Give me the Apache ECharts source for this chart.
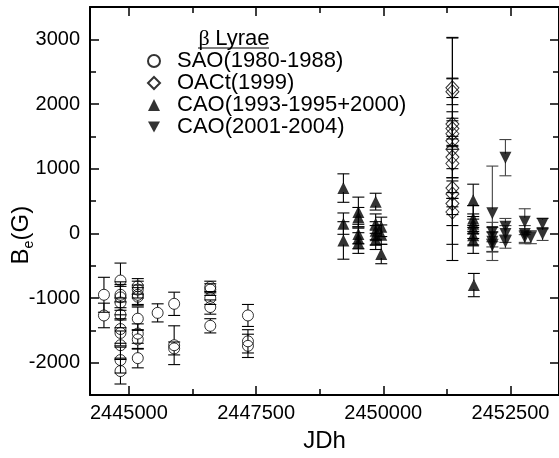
<!DOCTYPE html>
<html>
<head>
<meta charset="utf-8">
<script src="https://cdn.jsdelivr.net/npm/echarts@6/dist/echarts.min.js"></script>
<style>html,body{margin:0;padding:0;background:#fff;}#c{width:559px;height:458px;}</style>
</head>
<body>
<div id="c"></div>
<script>
// ---- data (JD, Be value, error) ----
const saoX = [2444510,2444510,
  2444835,2444835,2444835,2444835,2444835,2444835,2444835,2444835,2444835,2444835,
  2445175,2445175,2445175,2445175,2445175,2445175,2445175,2445175,
  2445565,
  2445890,2445890,2445890,
  2446600,2446600,2446600,2446600,2446600,
  2447340,2447340,2447340];
const saoY = [-950,-1270,
  -730,-950,-990,-1070,-1260,-1480,-1540,-1730,-1960,-2130,
  -820,-870,-950,-980,-1320,-1550,-1640,-1930,
  -1230,
  -1090,-1730,-1780,
  -830,-870,-1000,-1140,-1430,
  -1270,-1670,-1740];
const saoErr = [270,190,
  270,200,200,250,200,220,200,220,200,200,
  120,130,150,140,180,150,150,150,
  140,
  180,300,100,
  90,90,100,110,110,
  170,180,180];

const oacX = [2451358,2451358,2451358,2451358,2451358,2451358,2451358,2451358,2451358,2451358,2451358,2451358,2451358];
const oacY = [2250,2190,1690,1620,1540,1430,1300,1180,1080,700,610,460,330];
const oacErr = [150,200,190,160,200,1600,1720,180,220,160,200,170,210];

const cao1X = [2449216,2449216,2449216,
  2449510,2449510,2449510,2449510,2449510,
  2449850,2449850,2449850,2449850,2449850,
  2449960,2449960,2449960,
  2451767,2451767,2451767,2451767,2451767,2451767,2451780];
const cao1Y = [700,150,-110,
  330,250,-10,-80,-150,
  490,150,40,-30,-100,
  100,-20,-320,
  510,230,150,70,-30,-110,-800];
const cao1Err = [220,165,290,
  230,150,150,160,160,
  130,150,140,150,150,
  150,150,150,
  250,200,150,150,150,200,180];

const cao2X = [2452143,2452143,2452143,2452143,2452143,
  2452400,2452400,2452400,2452400,
  2452780,2452780,2452780,2452900,
  2453130,2453130];
const cao2Y = [310,20,-60,-130,-190,
  1170,100,-10,-130,
  180,-10,-60,-60,
  150,-10];
const cao2Err = [730,150,150,150,100,
  280,130,130,100,
  200,130,100,100,
  80,100];

const xMajor = [2445000,2447500,2450000,2452500];
const xMinor = [2446250,2448750,2451250];
const yMajor = [-2000,-1000,0,1000,2000,3000];
const yMinor = [-1500,-500,500,1500,2500];

const seriesNames = ['SAO(1980-1988)','OACt(1999)','CAO(1993-1995+2000)','CAO(2001-2004)'];

// ---- helpers ----
function zip(xs, ys, es){ return xs.map((x,i)=>[x, ys[i], es[i]]); }
function errRender(gap, color){
  return function(params, api){
    const x = api.value(0), y = api.value(1), e = api.value(2);
    const c = api.coord([x, y]);
    const hi = api.coord([x, y + e]);
    const lo = api.coord([x, y - e]);
    const cap = 6;
    const st = {stroke: color, lineWidth: 1.1};
    const ch = [];
    if (hi[1] < c[1] - gap) ch.push({type:'line', shape:{x1:c[0], y1:hi[1], x2:c[0], y2:c[1]-gap}, style:st});
    if (lo[1] > c[1] + gap) ch.push({type:'line', shape:{x1:c[0], y1:c[1]+gap, x2:c[0], y2:lo[1]}, style:st});
    ch.push({type:'line', shape:{x1:c[0]-cap, y1:hi[1], x2:c[0]+cap, y2:hi[1]}, style:st});
    ch.push({type:'line', shape:{x1:c[0]-cap, y1:lo[1], x2:c[0]+cap, y2:lo[1]}, style:st});
    return {type:'group', children: ch};
  };
}
function errSeries(data, gap, color){
  return {type:'custom', renderItem: errRender(gap, color), data: data,
    encode:{x:0, y:1}, xAxisIndex:0, yAxisIndex:0, silent:true, z:2};
}

const FONT = 'Liberation Sans';
const xMin = 2444236, xMax = 2453453, yMin = -2500, yMax = 3500;
const lineStyle = {color:'#000', width:2};

function xAx(pos, ticks, len, showLine, labels){
  return {type:'value', position:pos, min:xMin, max:xMax,
    axisLine:{show:showLine, onZero:false, lineStyle:lineStyle},
    axisTick:{show:true, inside:true, length:len, customValues:ticks, lineStyle:{color:'#000', width:1.5}},
    axisLabel: labels ? {show:true, customValues:ticks, color:'#000', fontSize:20, fontFamily:FONT, margin:8,
      formatter: v => String(Math.round(v))} : {show:false},
    splitLine:{show:false}};
}
function yAx(pos, ticks, len, showLine, labels){
  return {type:'value', position:pos, min:yMin, max:yMax,
    axisLine:{show:showLine, onZero:false, lineStyle:lineStyle},
    axisTick:{show:true, inside:true, length:len, customValues:ticks, lineStyle:{color:'#000', width:1.5}},
    axisLabel: labels ? {show:true, customValues:ticks, color:'#000', fontSize:20, fontFamily:FONT, margin:10,
      formatter: v => String(Math.round(v))} : {show:false},
    splitLine:{show:false}};
}

const xAxes = [xAx('bottom', xMajor, 9, true, true), xAx('bottom', xMinor, 6, false, false),
               xAx('top', xMajor, 9, true, false), xAx('top', xMinor, 6, false, false)];
xAxes[0].name = 'JDh';
xAxes[0].nameLocation = 'middle';
xAxes[0].nameGap = 34;
xAxes[0].nameTextStyle = {fontSize:24, fontFamily:FONT, color:'#000'};

const yAxes = [yAx('left', yMajor, 9, true, true), yAx('left', yMinor, 6, false, false),
               yAx('right', yMajor, 9, true, false), yAx('right', yMinor, 6, false, false)];

const downTri = 'path://M0,0L10,0L5,9Z';
const tStyle = (txt, size, align) => ({text:txt, fontSize:size, fontFamily:FONT, fill:'#000', align:align, verticalAlign:'middle'});

const option = {
  animation:false,
  backgroundColor:'#fff',
  grid:{left:90, top:7, width:474, height:391, containLabel:false},
  xAxis: xAxes,
  yAxis: yAxes,
  legend:{orient:'vertical', left:147, top:50, itemWidth:12, itemHeight:12, itemGap:0, padding:0,
    selectedMode:false,
    textStyle:{fontSize:22, fontFamily:FONT, color:'#000', lineHeight:22, padding:[0,0,0,12]},
    data: seriesNames},
  graphic:[
    {type:'text', x:234, y:39, style:{
      text:'{g|β }{t|Lyrae}', align:'center', verticalAlign:'middle',
      rich:{g:{fontSize:22, fontFamily:'Liberation Serif', fill:'#000'}, t:{fontSize:22, fontFamily:FONT, fill:'#000'}}}},
    {type:'line', shape:{x1:198, y1:48, x2:269, y2:48}, style:{stroke:'#000', lineWidth:1.2}},
    {type:'group', x:21, y:235, rotation:Math.PI/2, children:[
      {type:'text', x:-29.5, y:0, style:tStyle('B', 24, 'left')},
      {type:'text', x:-13.5, y:8, style:tStyle('e', 14, 'left')},
      {type:'text', x:-5.5, y:0, style:tStyle('(G)', 24, 'left')}
    ]}
  ],
  series:[
    errSeries(zip(saoX, saoY, saoErr), 5.5, '#000'),
    errSeries(zip(oacX, oacY, oacErr), 0, '#000'),
    errSeries(zip(cao1X, cao1Y, cao1Err), 4, '#000'),
    errSeries(zip(cao2X, cao2Y, cao2Err), 4, '#444'),
    {name:seriesNames[0], type:'scatter', symbol:'circle', symbolSize:11, z:3, silent:true,
      itemStyle:{color:'rgba(255,255,255,0)', borderColor:'#000', borderWidth:1},
      data: zip(saoX, saoY, saoErr).map(d=>[d[0], d[1]])},
    {name:seriesNames[1], type:'scatter', symbol:'diamond', symbolSize:[13,14], z:3, silent:true,
      itemStyle:{color:'rgba(255,255,255,0)', borderColor:'#000', borderWidth:1},
      data: zip(oacX, oacY, oacErr).map(d=>[d[0], d[1]])},
    {name:seriesNames[2], type:'scatter', symbol:'triangle', symbolSize:[12,12], z:3, silent:true,
      itemStyle:{color:'#000'},
      data: zip(cao1X, cao1Y, cao1Err).map(d=>[d[0], d[1]])},
    {name:seriesNames[3], type:'scatter', symbol:downTri, symbolSize:[12,12], z:3, silent:true,
      itemStyle:{color:'#000'},
      data: zip(cao2X, cao2Y, cao2Err).map(d=>[d[0], d[1]])}
  ]
};
const chart = echarts.init(document.getElementById('c'), null, {renderer:'canvas'});
chart.setOption(option);
</script>
</body>
</html>
